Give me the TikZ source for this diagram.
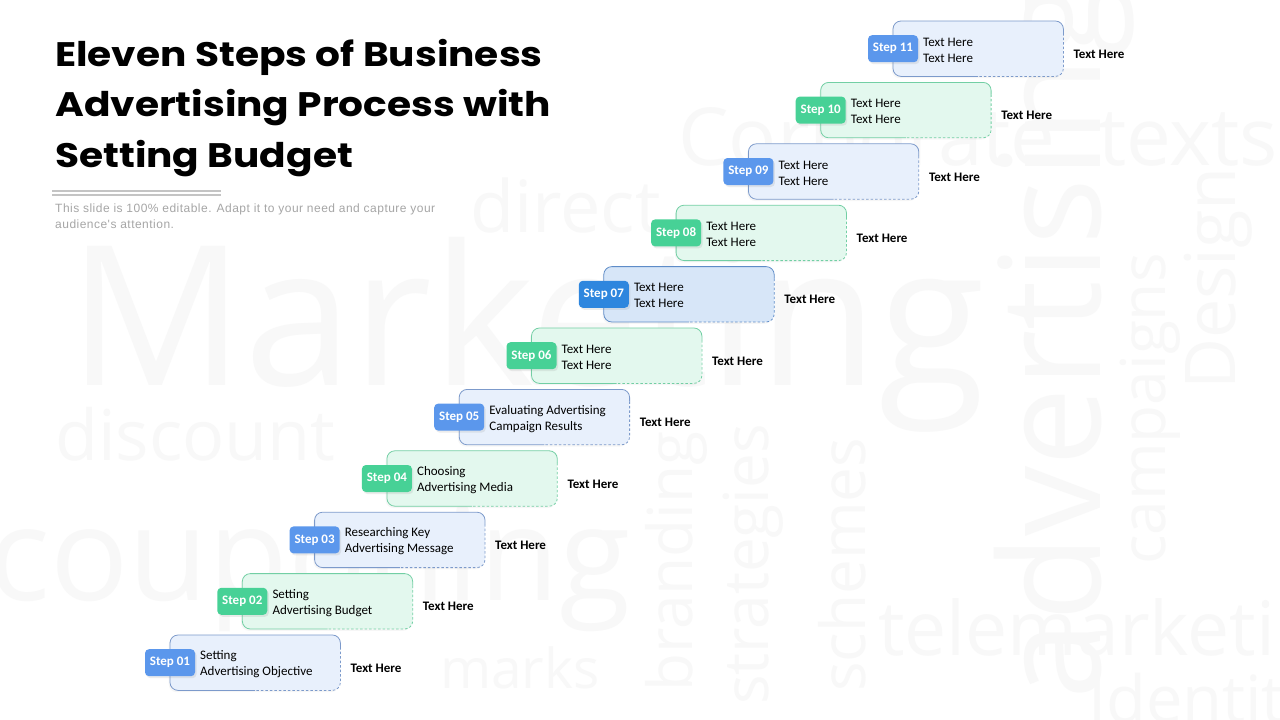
\documentclass[tikz,border=0pt]{standalone}
\usepackage{fontspec}
\setmainfont{Carlito}
\newfontfamily\titlefont{Poppins}[FakeStretch=1.15]
\newfontfamily\subfont{Liberation Sans}[LetterSpace=4]
\newfontfamily\bgfont{Open Sans}
\usetikzlibrary{shadows}
\definecolor{BFill}{HTML}{E8F0FC}
\definecolor{BLine}{HTML}{7C9ACB}
\definecolor{BBadge}{HTML}{5B97EC}
\definecolor{GFill}{HTML}{E3F8EE}
\definecolor{GLine}{HTML}{72CFA4}
\definecolor{GBadge}{HTML}{47D196}
\definecolor{DFill}{HTML}{D7E6F8}
\definecolor{DLine}{HTML}{5E8CC8}
\definecolor{DBadge}{HTML}{2E86DE}
\definecolor{bgword}{HTML}{F8F8F8}
\definecolor{subgray}{HTML}{A6A6A6}
\definecolor{rulegray}{HTML}{C4C4C4}
\tikzset{
  bgw/.style={text=bgword, inner sep=0pt},
  stepbg/.style={rounded corners=8pt, minimum width=170pt, minimum height=55pt, inner sep=0pt,
    drop shadow={opacity=0.07, shadow xshift=-1.5pt, shadow yshift=-2pt}},
  solidpart/.style={line width=0.8pt, rounded corners=8pt},
  dashpart/.style={line width=0.8pt, rounded corners=8pt, dash pattern=on 2.5pt off 2pt},
  badge/.style={rounded corners=4pt, minimum width=50pt, minimum height=27pt, inner sep=0pt,
    text=white, font=\bfseries\fontsize{13}{15}\selectfont,
    drop shadow={opacity=0.15, shadow xshift=1.5pt, shadow yshift=-2pt}},
  intext/.style={inner sep=0pt, align=left, text=black, font=\fontsize{13}{16}\selectfont},
  outlbl/.style={inner sep=0pt, text=black, font=\bfseries\fontsize{13}{15}\selectfont},
  ttl/.style={inner sep=0pt, anchor=base west, font=\titlefont\bfseries\fontsize{34}{40}\selectfont},
  subt/.style={inner sep=0pt, anchor=base west, text=subgray, font=\subfont\fontsize{12}{14}\selectfont}
}
\begin{document}
\begin{tikzpicture}[x=1pt,y=-1pt]
\fill[white] (0,0) rectangle (1280,720);
\useasboundingbox (0,0) rectangle (1280,720);
% faint background word cloud
\node[bgw, anchor=base west, font=\bgfont\fontsize{195}{195}\selectfont] (wMarketing) at (68,385) {Marketing};
\node[bgw, anchor=base west, font=\bgfont\fontsize{70}{70}\selectfont] (wdiscount) at (55,460) {discount};
\node[bgw, anchor=base west, font=\bgfont\fontsize{130}{130}\selectfont] (wcouponing) at (-12,600) {couponing};
\node[bgw, anchor=base west, font=\bgfont\fontsize{75}{75}\selectfont] (wtele) at (878,655) {telemarketing};
\node[bgw, anchor=base west, font=\bgfont\fontsize{65}{65}\selectfont] (wident) at (1088,722) {Identity};
\node[bgw, anchor=base west, font=\bgfont\fontsize{80}{80}\selectfont] (wtexts) at (1098,165) {texts};
\node[bgw, anchor=base west, font=\bgfont\fontsize{80}{80}\selectfont] (wcorp) at (678,165) {Corporate};
\node[bgw, anchor=base west, font=\bgfont\fontsize{72}{72}\selectfont] (wdirect) at (470,232) {direct};
\node[bgw, anchor=base west, font=\bgfont\fontsize{55}{55}\selectfont] (wmarks) at (440,688) {marks};
\node[bgw, anchor=base west, rotate=90, font=\bgfont\fontsize{140}{140}\selectfont] (wadv) at (1100,700) {advertising};
\node[bgw, anchor=base west, rotate=90, font=\bgfont\fontsize{62}{62}\selectfont] (wbrand) at (692,692) {branding};
\node[bgw, anchor=base west, rotate=90, font=\bgfont\fontsize{62}{62}\selectfont] (wstrat) at (768,705) {strategies};
\node[bgw, anchor=base west, rotate=90, font=\bgfont\fontsize{62}{62}\selectfont] (wsch) at (865,692) {schemes};
\node[bgw, anchor=base west, rotate=90, font=\bgfont\fontsize{62}{62}\selectfont] (wcamp) at (1165,565) {campaigns};
\node[bgw, anchor=base west, rotate=90, font=\bgfont\fontsize{70}{70}\selectfont] (wdesign) at (1235,390) {Design};
% title
\node[ttl] (t1) at (55,66) {Eleven Steps of Business};
\node[ttl] (t2) at (55,116) {Advertising Process with};
\node[ttl] (t3) at (55,167) {Setting Budget};
\coordinate (r1a) at (52,191);
\coordinate (r1b) at (221,191);
\coordinate (r2a) at (52,195);
\coordinate (r2b) at (221,195);
\draw[rulegray, line width=1.4pt] (r1a) -- (r1b);
\draw[rulegray, line width=1.4pt] (r2a) -- (r2b);
\node[subt] (s1) at (55,212) {This slide is 100\% editable. Adapt it to your need and capture your};
\node[subt] (s2) at (55,228) {audience's attention.};
% steps
\foreach \n/\lab/\clr/\txt in {
  1/01/B/{Setting\\Advertising Objective},
  2/02/G/{Setting\\Advertising Budget},
  3/03/B/{Researching Key\\Advertising Message},
  4/04/G/{Choosing\\Advertising Media},
  5/05/B/{Evaluating Advertising\\Campaign Results},
  6/06/G/{Text Here\\Text Here},
  7/07/D/{Text Here\\Text Here},
  8/08/G/{Text Here\\Text Here},
  9/09/B/{Text Here\\Text Here},
  10/10/G/{Text Here\\Text Here},
  11/11/B/{Text Here\\Text Here}}{
  \pgfmathsetmacro\bx{170+72.3*(\n-1)}
  \pgfmathsetmacro\by{635-61.4*(\n-1)}
  \node[stepbg, fill=\clr Fill, anchor=north west] (box\n) at (\bx,\by) {};
  \draw[\clr Line, solidpart] (box\n.south) -- (box\n.south west) -- (box\n.north west) -- (box\n.north east) -- ([yshift=-12pt]box\n.north east);
  \draw[\clr Line, dashpart] ([yshift=-12pt]box\n.north east) -- (box\n.south east) -- (box\n.south);
  \node[badge, fill=\clr Badge] (badge\n) at (box\n.west) {Step \lab};
  \node[intext, anchor=west] (txt\n) at ([xshift=30pt,yshift=-1.5pt]box\n.west) {\txt};
  \node[outlbl, anchor=west] (lbl\n) at ([xshift=10pt,yshift=-5.5pt]box\n.east) {Text Here};
}
\end{tikzpicture}
\end{document}
